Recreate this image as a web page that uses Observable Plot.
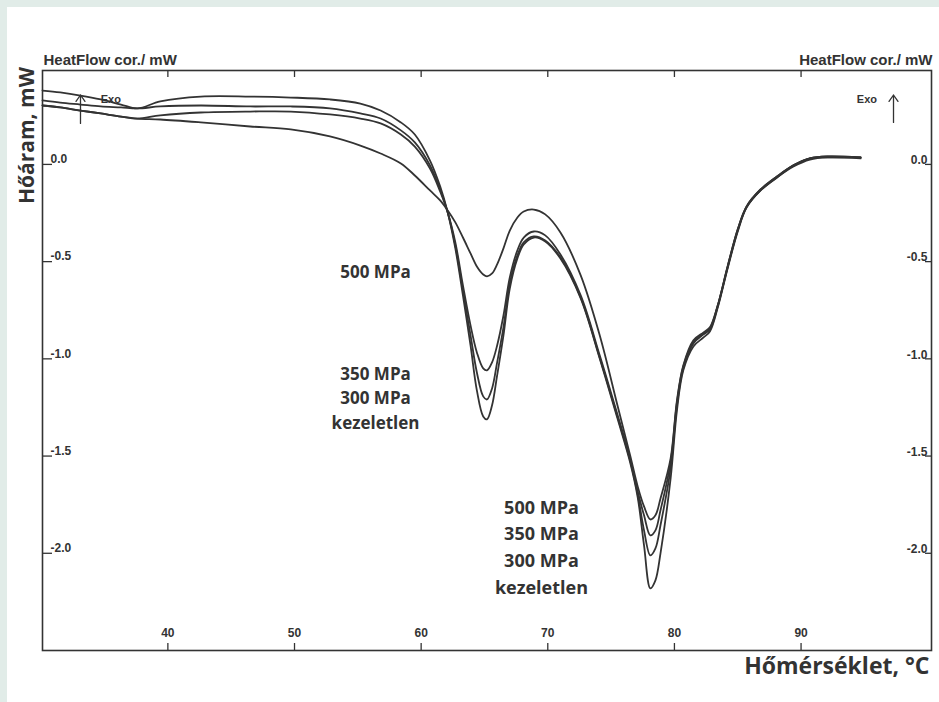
<!DOCTYPE html>
<html>
<head>
<meta charset="utf-8">
<script src="https://cdn.jsdelivr.net/npm/d3@7"></script>
<script src="https://cdn.jsdelivr.net/npm/@observablehq/plot@0.6"></script>
<style>
  body { margin: 0; background: #fff; }
  #wrap { position: relative; width: 939px; height: 702px; overflow: hidden; }
  #bandTop { position: absolute; left: 0; top: 0; width: 939px; height: 7px; background: #e1ece8; }
  #bandLeft { position: absolute; left: 0; top: 0; width: 7px; height: 702px; background: #e1ece8; }
  #chart { position: absolute; left: 0; top: 0; }
</style>
</head>
<body>
<div id="wrap"><div id="bandTop"></div><div id="bandLeft"></div><div id="chart"></div></div>
<script>
// Temperature grid (°C)
const temps = [30.1,31.5,33.1,34.7,36.3,37.6,39.4,42.6,46.5,49.7,52.8,55.2,56.8,58.4,59.5,60.7,61.5,62.1,62.7,63.3,63.9,64.4,64.9,65.2,65.6,66.0,66.5,67.0,67.6,68.1,68.9,69.8,71.0,72.6,74.1,75.5,76.5,77.1,77.6,78.1,78.5,78.9,79.7,80.2,80.7,81.5,82.3,82.8,83.4,84.2,85.0,85.7,86.8,88.1,89.4,90.7,92.1,94.7];

// Heat flow (mW)
const kezeletlen = [0.380,0.370,0.354,0.334,0.308,0.288,0.324,0.349,0.349,0.344,0.334,0.313,0.277,0.216,0.154,0.020,-0.113,-0.247,-0.432,-0.674,-0.931,-1.162,-1.296,-1.311,-1.239,-1.085,-0.879,-0.638,-0.484,-0.412,-0.376,-0.396,-0.484,-0.689,-0.998,-1.306,-1.532,-1.712,-1.959,-2.180,-2.139,-2.000,-1.615,-1.265,-1.059,-0.936,-0.890,-0.859,-0.741,-0.535,-0.345,-0.221,-0.134,-0.067,-0.011,0.025,0.036,0.031];
const mpa300 = [0.329,0.318,0.308,0.298,0.293,0.288,0.298,0.303,0.298,0.298,0.288,0.262,0.236,0.175,0.113,-0.005,-0.129,-0.247,-0.417,-0.648,-0.879,-1.070,-1.193,-1.209,-1.152,-1.018,-0.838,-0.612,-0.468,-0.401,-0.370,-0.391,-0.478,-0.684,-0.993,-1.296,-1.522,-1.697,-1.882,-2.011,-1.975,-1.856,-1.563,-1.239,-1.049,-0.921,-0.874,-0.849,-0.735,-0.530,-0.340,-0.221,-0.134,-0.067,-0.005,0.031,0.036,0.036];
const mpa350 = [0.303,0.293,0.277,0.262,0.246,0.236,0.252,0.267,0.272,0.272,0.257,0.236,0.211,0.154,0.092,-0.021,-0.139,-0.247,-0.401,-0.622,-0.828,-0.967,-1.049,-1.059,-1.018,-0.931,-0.777,-0.581,-0.442,-0.376,-0.345,-0.365,-0.463,-0.674,-0.982,-1.286,-1.512,-1.682,-1.805,-1.908,-1.882,-1.779,-1.532,-1.224,-1.039,-0.915,-0.869,-0.843,-0.730,-0.525,-0.334,-0.216,-0.129,-0.062,-0.005,0.031,0.041,0.036];
const mpa500 = [0.303,0.293,0.277,0.262,0.246,0.236,0.231,0.216,0.195,0.180,0.144,0.097,0.056,0.005,-0.057,-0.134,-0.185,-0.237,-0.298,-0.376,-0.458,-0.525,-0.566,-0.576,-0.561,-0.514,-0.432,-0.340,-0.273,-0.242,-0.232,-0.257,-0.350,-0.571,-0.879,-1.239,-1.496,-1.656,-1.759,-1.826,-1.805,-1.718,-1.512,-1.214,-1.034,-0.905,-0.864,-0.838,-0.730,-0.525,-0.334,-0.216,-0.129,-0.062,-0.005,0.031,0.041,0.036];

const seriesNames = ["kezeletlen", "300 MPa", "350 MPa", "500 MPa"];
const seriesValues = [kezeletlen, mpa300, mpa350, mpa500];

// Axis ticks
const xTicks = [40, 50, 60, 70, 80, 90];
const yTicks = [0, -0.5, -1.0, -1.5, -2.0];
const xDomain = [30.1, 100.3];
const yDomain = [-2.5, 0.483];

// Annotation labels
const peak1Labels = ["500 MPa", "350 MPa", "300 MPa", "kezeletlen"];
const peak1LabelY = [-0.556, -1.080, -1.203, -1.332];
const peak1LabelX = 56.4;
const peak2Labels = ["500 MPa", "350 MPa", "300 MPa", "kezeletlen"];
const peak2LabelY = [-1.769, -1.903, -2.041, -2.180];
const peak2LabelX = 69.5;

const rows = seriesNames.flatMap((s, i) => temps.map((t, j) => ({s, t, v: seriesValues[i][j]})));

const W = 939, H = 702, mT = 70, mR = 8, mB = 52, mL = 42;
const pw = W - mL - mR, ph = H - mT - mB;
const ink = "#333";
const sansBold = "'Open Sans', sans-serif";
const arial = "'Liberation Sans', Arial, sans-serif";

const fmt = d => (d === 0 ? "0.0" : d.toFixed(1));

const chart = Plot.plot({
  width: W, height: H,
  marginTop: mT, marginRight: mR, marginBottom: mB, marginLeft: mL,
  x: {domain: xDomain, axis: null},
  y: {domain: yDomain, axis: null},
  style: {background: "transparent", fontFamily: arial, color: ink},
  marks: [
    Plot.frame({stroke: ink, strokeWidth: 1.6}),
    // ticks inside frame
    Plot.tickY(yTicks, {y: d => d, insetRight: pw - 10, stroke: ink, strokeWidth: 1.3}),
    Plot.tickY(yTicks, {y: d => d, insetLeft: pw - 6, stroke: ink, strokeWidth: 1.3}),
    Plot.tickX(xTicks, {x: d => d, insetTop: ph - 7, stroke: ink, strokeWidth: 1.3}),
    Plot.tickX(xTicks, {x: d => d, insetBottom: ph - 7, stroke: ink, strokeWidth: 1.3}),
    // tick labels
    Plot.text(yTicks, {y: d => d, text: fmt, frameAnchor: "left", dx: 8, dy: -5, textAnchor: "start", fontSize: 12, fontWeight: "bold", fill: ink}),
    Plot.text(yTicks, {y: d => d, text: fmt, frameAnchor: "right", dx: -4, dy: -4, textAnchor: "end", fontSize: 12, fontWeight: "bold", fill: ink}),
    Plot.text(xTicks, {x: d => d, text: d => String(d), frameAnchor: "bottom", dy: -14, fontSize: 12, fontWeight: "bold", fill: ink}),
    // curves
    Plot.line(rows, {x: "t", y: "v", z: "s", stroke: "#333", strokeWidth: 1.8, curve: "catmull-rom"}),
    // top labels
    Plot.text(["HeatFlow cor./ mW"], {frameAnchor: "top-left", dx: 1, dy: -6, textAnchor: "start", lineAnchor: "bottom", fontSize: 15, fontWeight: "bold", fill: ink}),
    Plot.text(["HeatFlow cor./ mW"], {frameAnchor: "top-right", dx: 1, dy: -6, textAnchor: "end", lineAnchor: "bottom", fontSize: 15, fontWeight: "bold", fill: ink}),
    // axis titles
    Plot.text(["Hőáram, mW"], {frameAnchor: "top-left", dx: -9, dy: 65, rotate: -90, textAnchor: "middle", lineAnchor: "bottom", fontFamily: sansBold, fontSize: 21, fontWeight: "bold", fill: ink}),
    Plot.text(["Hőmérséklet, °C"], {frameAnchor: "bottom-right", dx: -2, dy: 7, textAnchor: "end", lineAnchor: "top", fontFamily: sansBold, fontSize: 23, fontWeight: "bold", fill: ink}),
    // Exo arrows
    Plot.arrow([{x: 33.1}], {x: "x", y1: 0.211, y2: 0.357, stroke: ink, strokeWidth: 1.3, headLength: 9, headAngle: 70}),
    Plot.text(["Exo"], {x: 34.7, y: 0.333, textAnchor: "start", fontSize: 11, fontWeight: "bold", fill: ink}),
    Plot.arrow([{x: 97.3}], {x: "x", y1: 0.216, y2: 0.357, stroke: ink, strokeWidth: 1.3, headLength: 9, headAngle: 70}),
    Plot.text(["Exo"], {x: 95.2, y: 0.333, fontSize: 11, fontWeight: "bold", fill: ink}),
    // annotations
    Plot.text(peak1Labels, {x: peak1LabelX, y: (d, i) => peak1LabelY[i], text: d => d, fontFamily: sansBold, fontSize: 17, fontWeight: "bold", fill: ink}),
    Plot.text(peak2Labels, {x: peak2LabelX, y: (d, i) => peak2LabelY[i], text: d => d, fontFamily: sansBold, fontSize: 18, fontWeight: "bold", fill: ink})
  ]
});
document.getElementById("chart").appendChild(chart);
</script>
</body>
</html>
